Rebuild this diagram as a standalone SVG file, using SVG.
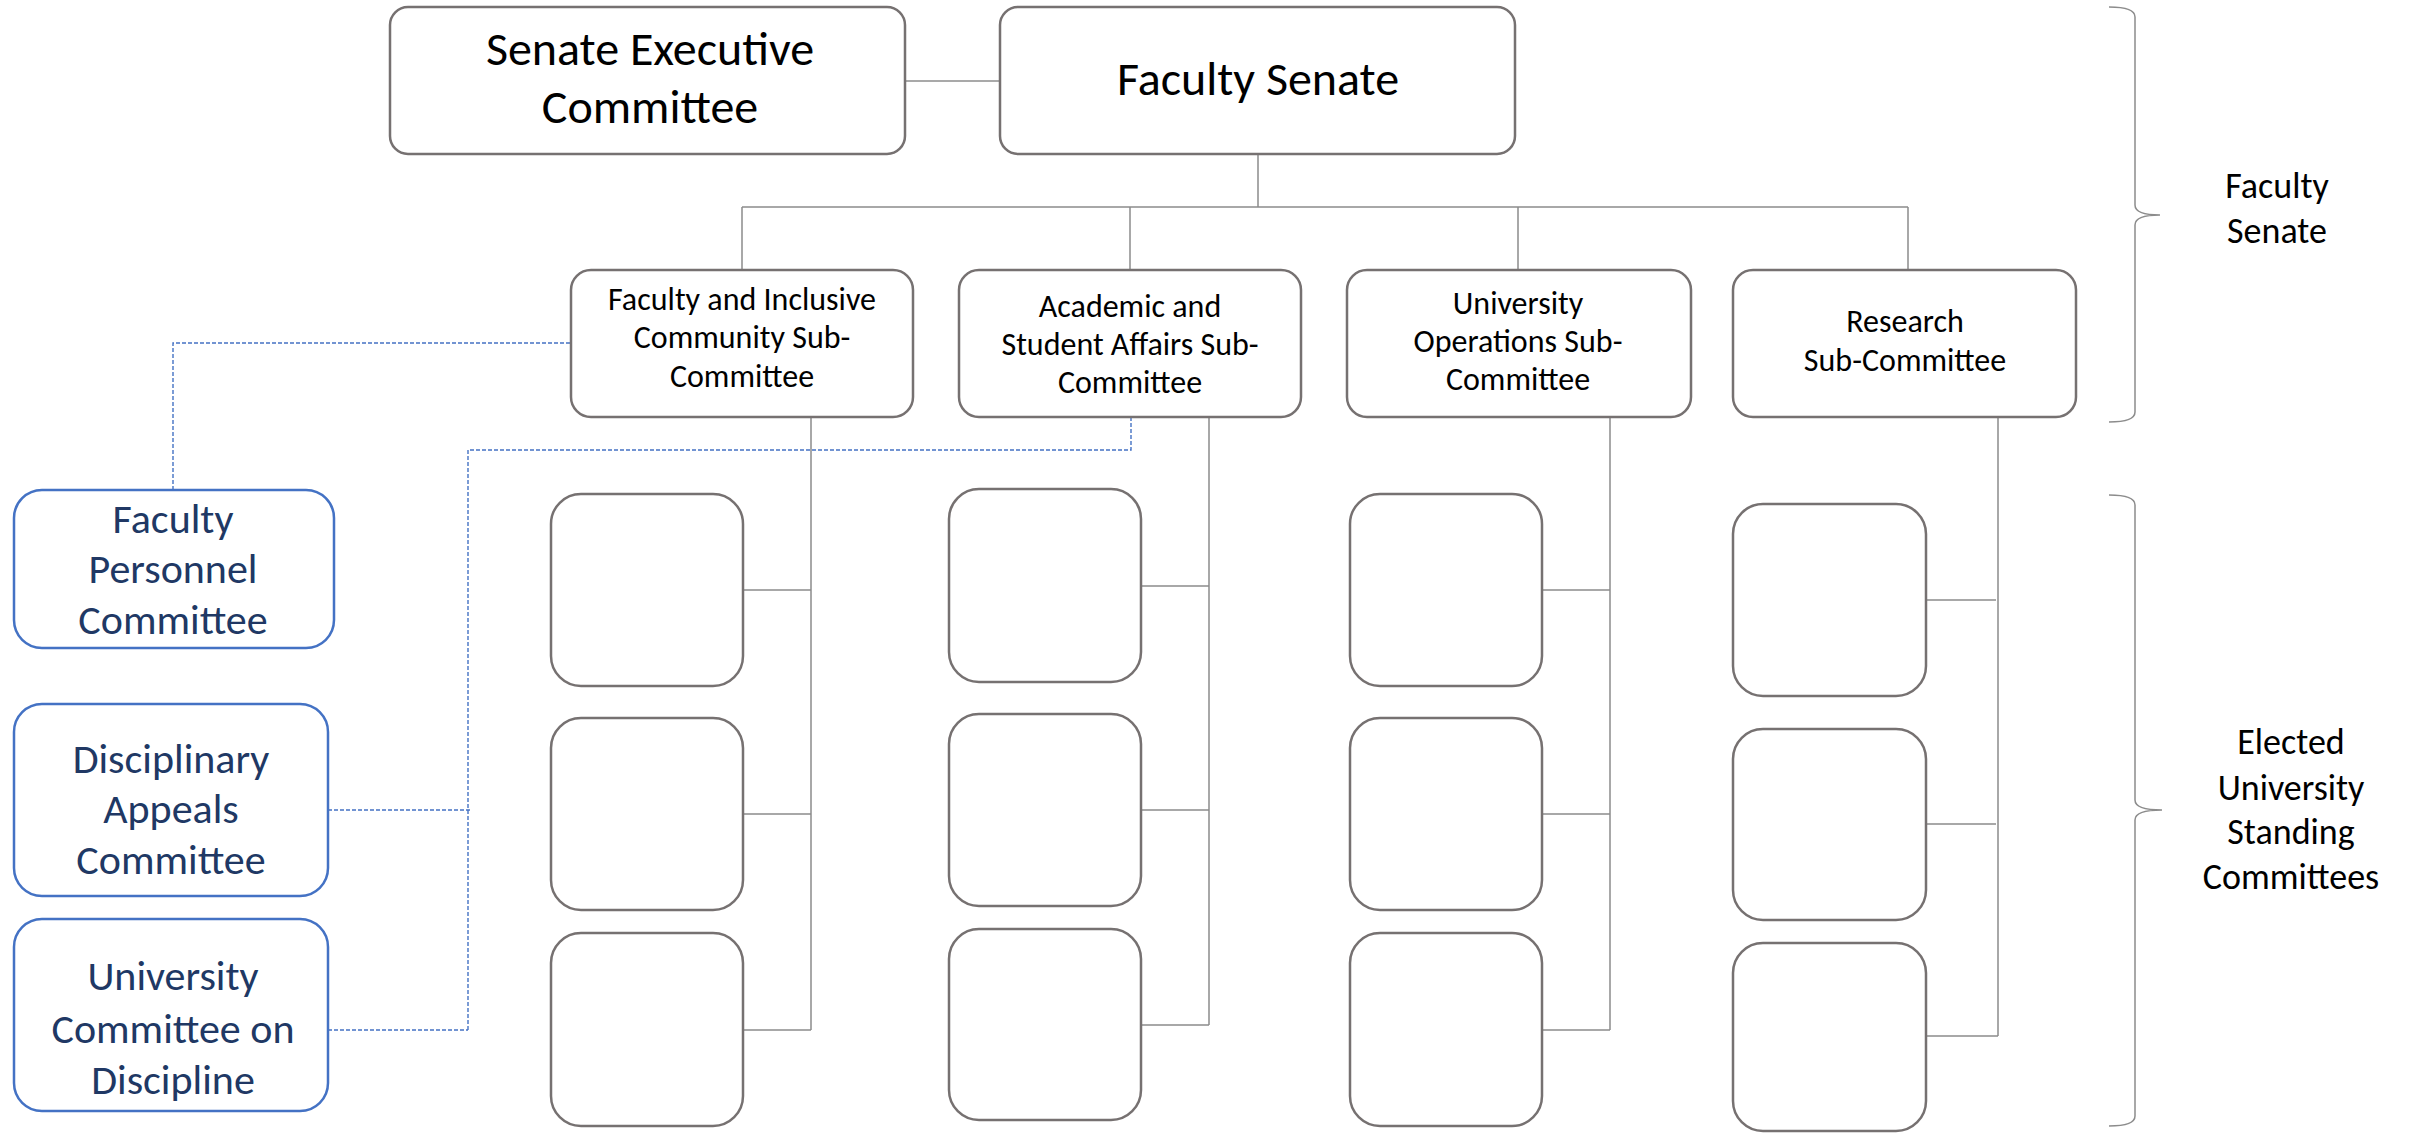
<svg xmlns="http://www.w3.org/2000/svg" width="2410" height="1133" viewBox="0 0 2410 1133">
<style>
.box{fill:#ffffff;stroke:#767171;stroke-width:2.5}
.bbox{fill:#ffffff;stroke:#4472C4;stroke-width:2.5}
.ln{fill:none;stroke:#8c8c8c;stroke-width:1.5}
.dl{fill:none;stroke:#4472C4;stroke-width:1.4;stroke-dasharray:4 2}
.br{fill:none;stroke:#8c8c8c;stroke-width:1.5}
text{font-family:Carlito,Calibri,Lato,"Liberation Sans",sans-serif;text-anchor:middle;fill:#000000}
.t48{font-size:48px}
.t32{font-size:32px}
.t42{font-size:42px;fill:#203864}
.t36{font-size:36px}
</style>
<rect width="2410" height="1133" fill="#ffffff"/>
<g id="connectors">
<line class="ln" x1="905" y1="81" x2="1000" y2="81"/>
<path class="ln" d="M1258,154 L1258,207 M742,207 L1908,207 M742,207 L742,270 M1130,207 L1130,270 M1518,207 L1518,270 M1908,207 L1908,270"/>
<path class="ln" d="M811,417 L811,1030 M743,590 L811,590 M743,814 L811,814 M743,1030 L811,1030"/>
<path class="ln" d="M1209,412 L1209,1025 M1141,586 L1209,586 M1141,810 L1209,810 M1141,1025 L1209,1025"/>
<path class="ln" d="M1610,417 L1610,1030 M1542,590 L1610,590 M1542,814 L1610,814 M1542,1030 L1610,1030"/>
<path class="ln" d="M1998,417 L1998,1036 M1926,600 L1996,600 M1926,824 L1996,824 M1926,1036 L1998,1036"/>
<path class="dl" d="M173,490 L173,343 L571,343"/>
<path class="dl" d="M1131,417 L1131,450 L468,450 L468,1030 M328,810 L471,810 M328,1030 L468,1030"/>
</g>
<g id="senate-exec">
<rect class="box" x="390" y="7" width="515" height="147" rx="18"/>
<text class="t48" x="650" y="65">Senate Executive</text>
<text class="t48" x="650" y="123">Committee</text>
</g>
<g id="faculty-senate">
<rect class="box" x="1000" y="7" width="515" height="147" rx="18"/>
<text class="t48" x="1258" y="95">Faculty Senate</text>
</g>
<g id="sub-faculty">
<rect class="box" x="571" y="270" width="342" height="147" rx="20"/>
<text class="t32" x="742" y="310">Faculty and Inclusive</text>
<text class="t32" x="742" y="348">Community Sub-</text>
<text class="t32" x="742" y="387">Committee</text>
</g>
<g id="sub-academic">
<rect class="box" x="959" y="270" width="342" height="147" rx="20"/>
<text class="t32" x="1130" y="317">Academic and</text>
<text class="t32" x="1130" y="355">Student Affairs Sub-</text>
<text class="t32" x="1130" y="393">Committee</text>
</g>
<g id="sub-operations">
<rect class="box" x="1347" y="270" width="344" height="147" rx="20"/>
<text class="t32" x="1518" y="314">University</text>
<text class="t32" x="1518" y="352">Operations Sub-</text>
<text class="t32" x="1518" y="390">Committee</text>
</g>
<g id="sub-research">
<rect class="box" x="1733" y="270" width="343" height="147" rx="20"/>
<text class="t32" x="1905" y="332">Research</text>
<text class="t32" x="1905" y="371">Sub-Committee</text>
</g>
<g id="col1">
<rect class="box" x="551" y="494" width="192" height="192" rx="30"/>
<rect class="box" x="551" y="718" width="192" height="192" rx="30"/>
<rect class="box" x="551" y="933" width="192" height="193" rx="30"/>
</g>
<g id="col2">
<rect class="box" x="949" y="489" width="192" height="193" rx="30"/>
<rect class="box" x="949" y="714" width="192" height="192" rx="30"/>
<rect class="box" x="949" y="929" width="192" height="191" rx="30"/>
</g>
<g id="col3">
<rect class="box" x="1350" y="494" width="192" height="192" rx="30"/>
<rect class="box" x="1350" y="718" width="192" height="192" rx="30"/>
<rect class="box" x="1350" y="933" width="192" height="193" rx="30"/>
</g>
<g id="col4">
<rect class="box" x="1733" y="504" width="193" height="192" rx="30"/>
<rect class="box" x="1733" y="729" width="193" height="191" rx="30"/>
<rect class="box" x="1733" y="943" width="193" height="188" rx="30"/>
</g>
<g id="faculty-personnel">
<rect class="bbox" x="14" y="490" width="320" height="158" rx="28"/>
<text class="t42" x="173" y="533">Faculty</text>
<text class="t42" x="173" y="583">Personnel</text>
<text class="t42" x="173" y="634">Committee</text>
</g>
<g id="disciplinary-appeals">
<rect class="bbox" x="14" y="704" width="314" height="192" rx="28"/>
<text class="t42" x="171" y="773">Disciplinary</text>
<text class="t42" x="171" y="823">Appeals</text>
<text class="t42" x="171" y="874">Committee</text>
</g>
<g id="university-discipline">
<rect class="bbox" x="14" y="919" width="314" height="192" rx="28"/>
<text class="t42" x="173" y="990">University</text>
<text class="t42" x="173" y="1043">Committee on</text>
<text class="t42" x="173" y="1094">Discipline</text>
</g>
<g id="bracket-senate">
<path class="br" d="M2109,7 Q2135,7 2135,17 L2135,205 Q2135,215 2160,215 Q2135,215 2135,225 L2135,412 Q2135,422 2109,422"/>
<text class="t36" x="2277" y="198">Faculty</text>
<text class="t36" x="2277" y="243">Senate</text>
</g>
<g id="bracket-standing">
<path class="br" d="M2109,495 Q2135,495 2135,505 L2135,800 Q2135,810 2162,810 Q2135,810 2135,820 L2135,1116 Q2135,1126 2109,1126"/>
<text class="t36" x="2291" y="754">Elected</text>
<text class="t36" x="2291" y="800">University</text>
<text class="t36" x="2291" y="844">Standing</text>
<text class="t36" x="2291" y="889">Committees</text>
</g>
</svg>
